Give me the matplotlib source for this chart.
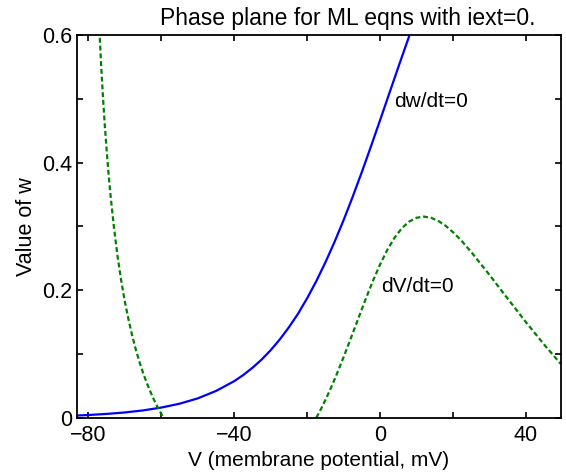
import matplotlib
matplotlib.use('Agg')
import matplotlib.pyplot as plt

plt.rcParams['font.family'] = ['Liberation Sans', 'DejaVu Sans']

# w-nullcline (dw/dt=0)
V_w = [-83.2, -80, -75, -70, -65, -60, -55, -50, -45, -40, -37.5, -35, -32.5,
       -30, -27.5, -25, -22.5, -20, -17.5, -15, -12.5, -10, -7.5, -5, -2.5,
       0, 2.5, 5, 6.5, 8, 10]
w_w = [0.0034, 0.0042, 0.0059, 0.0082, 0.0114, 0.0159, 0.0219, 0.0303, 0.0419,
       0.0573, 0.0670, 0.0783, 0.0911, 0.1059, 0.1228, 0.1419, 0.1631, 0.1874,
       0.2141, 0.2436, 0.2756, 0.3100, 0.3468, 0.3854, 0.4256, 0.4667, 0.5083,
       0.5498, 0.5744, 0.5987, 0.6303]

# V-nullcline (dV/dt=0), left branch
V_left = [-77.5, -77, -76.5, -76, -75.5, -75, -74.5, -74, -73, -72, -71, -70,
          -69, -68, -67, -66, -65, -64, -63, -62, -61, -60, -59.4]
w_left = [0.677, 0.610, 0.553, 0.503, 0.459, 0.420, 0.385, 0.353, 0.299, 0.253,
          0.215, 0.182, 0.154, 0.129, 0.107, 0.0876, 0.0703, 0.0547, 0.0407,
          0.028, 0.0165, 0.006, 0.0]

# V-nullcline, right branch
V_right = [-17.5, -17, -16, -15, -14, -13, -12, -10, -8, -6, -4, -2, 0, 2, 4, 6,
           8, 10, 12, 14, 16, 18, 20, 22, 25, 30, 35, 40, 45, 49.5]
w_right = [0.0, 0.0052, 0.0161, 0.0279, 0.0402, 0.0532, 0.0668, 0.0953, 0.125,
           0.1554, 0.1855, 0.2142, 0.2405, 0.2635, 0.2826, 0.2974, 0.3076, 0.3135,
           0.3153, 0.3133, 0.3083, 0.3006, 0.2907, 0.2794, 0.2596, 0.2237, 0.1864,
           0.1496, 0.1144, 0.0844]

xticks = [-80, -60, -40, -20, 0, 20, 40]
xticklabels = ['\u221280', '', '\u221240', '', '0', '', '40']
yticks = [0, 0.1, 0.2, 0.3, 0.4, 0.5, 0.6]
yticklabels = ['0', '', '0.2', '', '0.4', '', '0.6']

fig = plt.figure(figsize=(5.66, 4.74), dpi=100)
ax = fig.add_axes([0.1355, 0.1188, 0.8551, 0.8074])

green = (0, 0.5, 0)
ax.plot(V_w, w_w, color='blue', lw=1.6)
ax.plot(V_left, w_left, color=green, lw=1.6, linestyle=(0, (2.2, 1.3)))
ax.plot(V_right, w_right, color=green, lw=1.6, linestyle=(0, (2.2, 1.3)))

ax.text(3.9, 0.495, 'dw/dt=0', fontsize=15, ha='left', va='center')
ax.text(0.3, 0.206, 'dV/dt=0', fontsize=15, ha='left', va='center')

ax.set_xlim(-83.2, 49.5)
ax.set_ylim(0, 0.6)
ax.set_xticks(xticks)
ax.set_xticklabels(xticklabels)
ax.set_yticks(yticks)
ax.set_yticklabels(yticklabels)
ax.tick_params(direction='in', length=4, width=1.2, top=True, right=True,
               labelsize=15.5)
ax.tick_params(axis='x', pad=5)
ax.tick_params(axis='y', pad=3)
for s in ax.spines.values():
    s.set_linewidth(1.3)

ax.set_title('Phase plane for ML eqns with iext=0.', fontsize=16.5, pad=7, x=0.56)
ax.set_xlabel('V (membrane potential, mV)', fontsize=15, labelpad=4)
ax.set_ylabel('Value of w', fontsize=15.5, labelpad=4)

fig.savefig('out.png', dpi=100)
